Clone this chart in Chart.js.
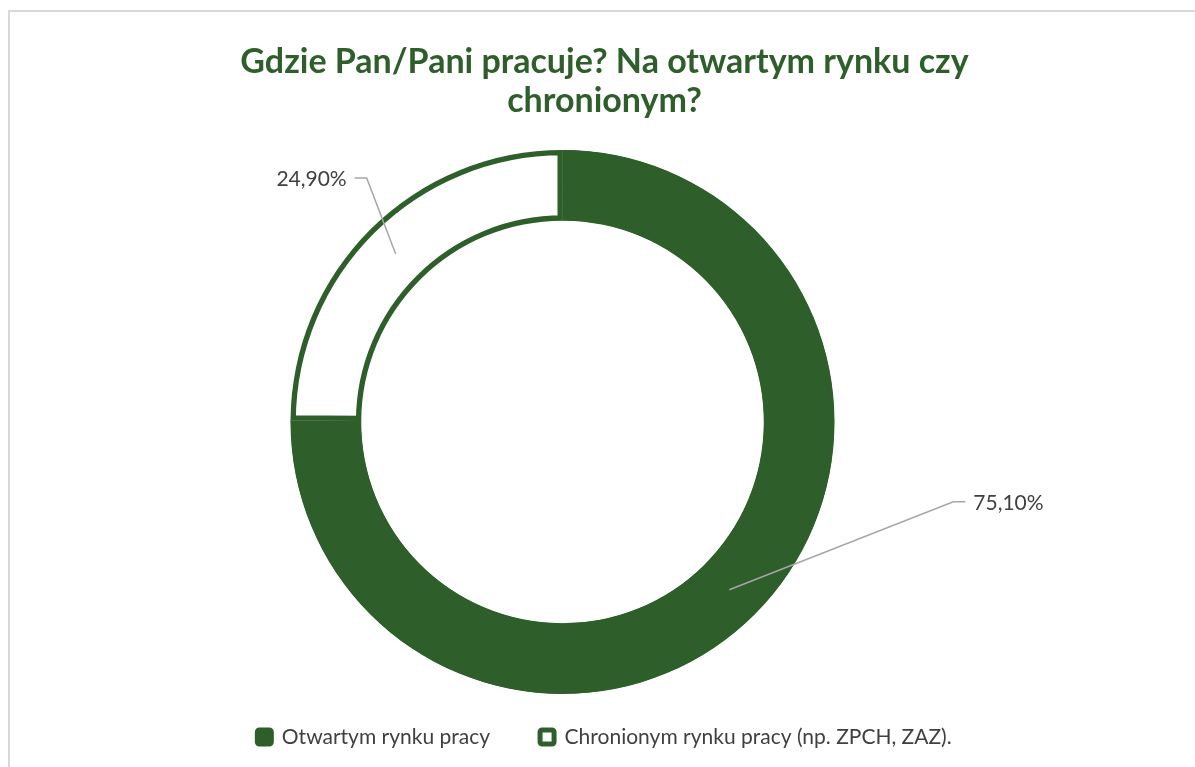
<!DOCTYPE html>
<html>
<head>
<meta charset="utf-8">
<script src="https://cdn.jsdelivr.net/npm/chart.js@4"></script>
<style>
  html, body { margin: 0; padding: 0; background: #fff; }
  body { width: 1195px; height: 767px; position: relative; overflow: hidden; }
  .frame {
    position: absolute; left: 8px; top: 10px; width: 1200px; height: 770px;
    border-top: 2px solid #d9d9d9; border-left: 2px solid #d9d9d9;
  }
  #wrap { position: absolute; left: 0; top: 0; width: 1195px; height: 767px; }
</style>
</head>
<body>
<div class="frame"></div>
<div id="wrap"><canvas id="chart"></canvas></div>
<script>
// ===============================
// Dane
// ===============================
const tytul = ['Gdzie Pan/Pani pracuje? Na otwartym rynku czy', 'chronionym?'];
const kategorie = ['Otwartym rynku pracy', 'Chronionym rynku pracy (np. ZPCH, ZAZ).'];
const wartosci = [75.1, 24.9];

const ZIELONY = '#2e5e29';
const SZARY = '#404040';

// przesunięcie etykiet względem środka wycinka (łokieć linii)
const przesuniecia = [
  { dx: 224, dy: -88, side: 'right' },
  { dx: -29, dy: -76, side: 'left' }
];

// przesuń obszar wykresu w lewo (pierścień nie jest wyśrodkowany tak jak tytuł)
const przesunObszar = {
  id: 'przesunObszar',
  afterLayout(chart) {
    chart.chartArea.left -= 42;
    chart.chartArea.right -= 42;
  }
};

// etykiety danych z liniami odniesienia
const etykiety = {
  id: 'etykiety',
  afterDatasetsDraw(chart) {
    const ctx = chart.ctx;
    const meta = chart.getDatasetMeta(0);
    meta.data.forEach((arc, i) => {
      const p = arc.getProps(['x', 'y', 'startAngle', 'endAngle', 'innerRadius', 'outerRadius'], true);
      const kat = (p.startAngle + p.endAngle) / 2;
      const r = (p.innerRadius + p.outerRadius) / 2;
      const ax = p.x + Math.cos(kat) * r;
      const ay = p.y + Math.sin(kat) * r;
      const o = przesuniecia[i];
      const ex = ax + o.dx;
      const ey = ay + o.dy;
      const hx = o.side === 'right' ? ex + 12 : ex - 12;

      ctx.save();
      ctx.strokeStyle = '#a6a6a6';
      ctx.lineWidth = 1.5;
      ctx.beginPath();
      ctx.moveTo(ax, ay);
      ctx.lineTo(ex, ey);
      ctx.lineTo(hx, ey);
      ctx.stroke();

      ctx.fillStyle = SZARY;
      ctx.font = '21px Lato';
      ctx.textBaseline = 'middle';
      ctx.textAlign = o.side === 'right' ? 'left' : 'right';
      const txt = wartosci[i].toFixed(2).replace('.', ',') + '%';
      ctx.fillText(txt, o.side === 'right' ? hx + 8 : hx - 8, ey + 1);
      ctx.restore();
    });
  }
};

const P = 50;

new Chart(document.getElementById('chart'), {
  type: 'doughnut',
  data: {
    labels: kategorie,
    datasets: [{
      data: wartosci,
      backgroundColor: [ZIELONY, '#ffffff'],
      borderColor: [ZIELONY, ZIELONY],
      borderWidth: 5,
      borderAlign: 'inner',
      radius: 272,
      cutout: '74%',
      clip: false
    }]
  },
  options: {
    responsive: true,
    maintainAspectRatio: false,
    animation: false,
    layout: { padding: { left: 14, right: 0, top: 0, bottom: 9.5 } },
    plugins: {
      title: {
        display: true,
        text: tytul,
        color: ZIELONY,
        font: { family: 'Lato', size: 34, weight: 'bold', lineHeight: 1.16 },
        padding: { top: 42, bottom: P - 3.5 }
      },
      legend: {
        position: 'bottom',
        labels: {
          color: SZARY,
          font: { family: 'Lato', size: 21 },
          boxWidth: 14,
          boxHeight: 14,
          padding: P,
          useBorderRadius: true,
          borderRadius: 2
        }
      },
      tooltip: { enabled: false }
    }
  },
  plugins: [przesunObszar, etykiety]
});
</script>
</body>
</html>
